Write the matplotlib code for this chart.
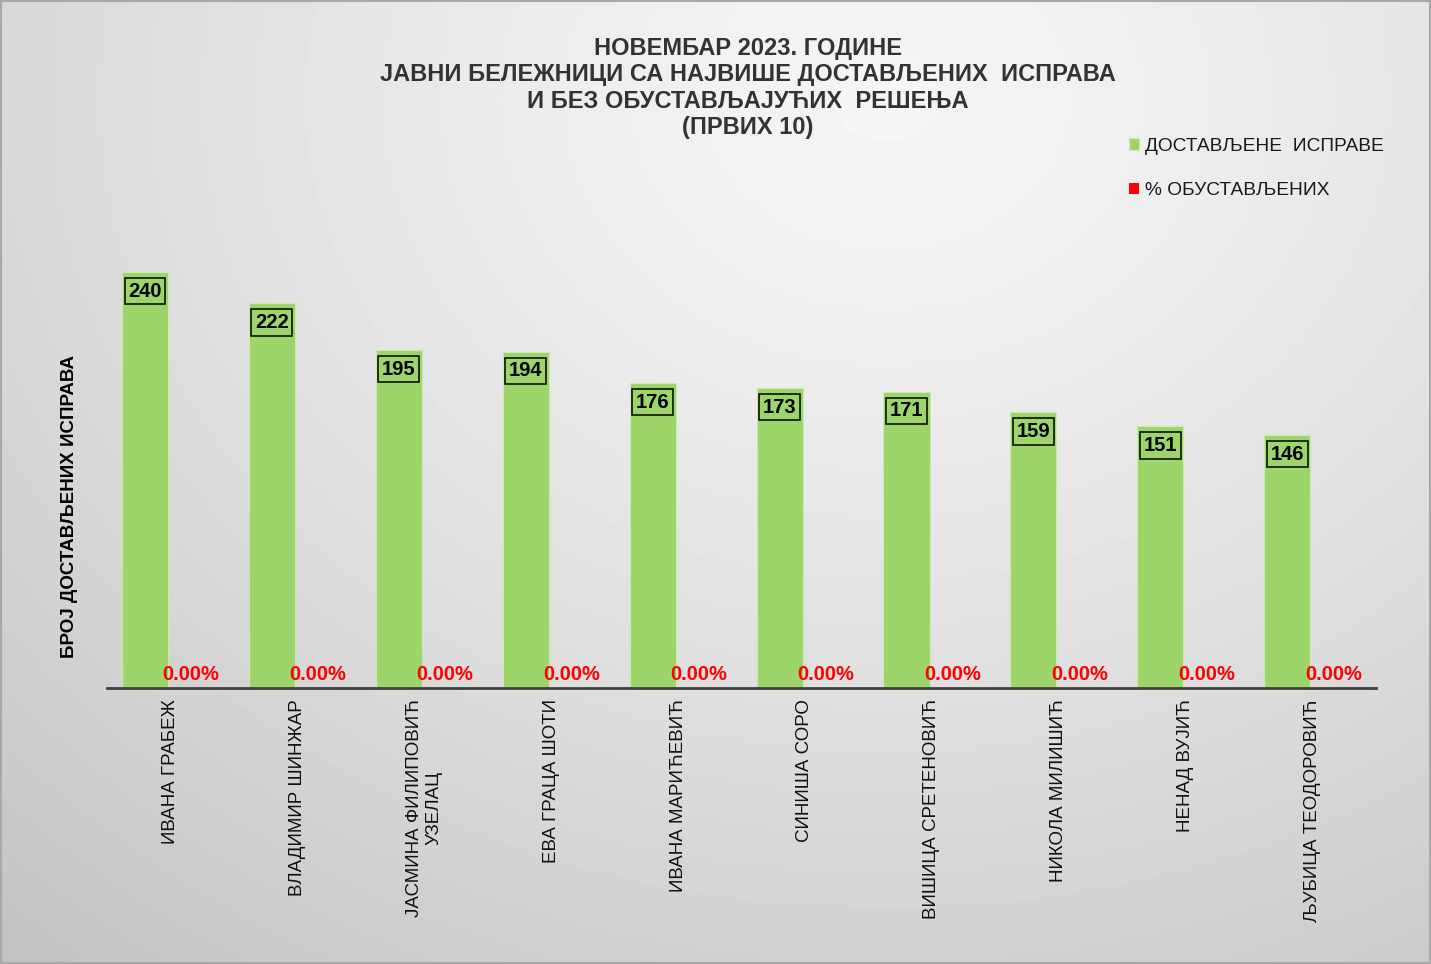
import matplotlib
matplotlib.use("Agg")
import matplotlib.pyplot as plt
import numpy as np
from matplotlib.patches import Rectangle

plt.rcParams["font.family"] = ["Liberation Sans", "DejaVu Sans"]

notaries = [
    "ИВАНА ГРАБЕЖ",
    "ВЛАДИМИР ШИНЖАР",
    "ЈАСМИНА ФИЛИПОВИЋ\nУЗЕЛАЦ",
    "ЕВА ГРАЦА ШОТИ",
    "ИВАНА МАРИЋЕВИЋ",
    "СИНИША СОРО",
    "ВИШИЦА СРЕТЕНОВИЋ",
    "НИКОЛА МИЛИШИЋ",
    "НЕНАД ВУЈИЋ",
    "ЉУБИЦА ТЕОДОРОВИЋ",
]
delivered = [240, 222, 195, 194, 176, 173, 171, 159, 151, 146]
pct_suspended = [0.0, 0.0, 0.0, 0.0, 0.0, 0.0, 0.0, 0.0, 0.0, 0.0]

title_lines = [
    "НОВЕМБАР 2023. ГОДИНЕ",
    "ЈАВНИ БЕЛЕЖНИЦИ СА НАЈВИШЕ ДОСТАВЉЕНИХ  ИСПРАВА",
    "И БЕЗ ОБУСТАВЉАЈУЋИХ  РЕШЕЊА",
    "(ПРВИХ 10)",
]

GREEN = "#9dd56b"
RED = "#ff0000"
W, H = 1431, 964


def draw_background(fig):
    bg = fig.add_axes([0, 0, 1, 1], zorder=-10)
    u = np.linspace(0, 1, 400)[None, :]
    v = np.linspace(0, 1, 300)[:, None]
    d = np.sqrt(((u - 0.62) / 0.85) ** 2 + ((v - 0.1) / 1.05) ** 2)
    img = np.clip(0.96 - 0.17 * d ** 1.3, 0, 1)
    bg.imshow(img, cmap="gray", vmin=0, vmax=1, aspect="auto", extent=[0, 1, 1, 0])
    bg.set_xlim(0, 1)
    bg.set_ylim(1, 0)
    bg.axis("off")
    bg.add_patch(Rectangle((0.0005, 0.001), 0.999, 0.998, fill=False, edgecolor="#a8a8a8", linewidth=1.5))


def main():
    fig = plt.figure(figsize=(W / 100, H / 100), dpi=100)
    draw_background(fig)

    ax = fig.add_axes([107 / W, 1 - 688 / H, 1269 / W, 468 / H])
    ax.patch.set_alpha(0)
    x = np.arange(len(notaries))
    bw = 0.363
    green = ax.bar(x - 0.20, delivered, bw, color=GREEN, edgecolor="#c9ebab", linewidth=0.8,
                   label="ДОСТАВЉЕНЕ  ИСПРАВЕ")
    red = ax.bar(x + 0.163, pct_suspended, bw, color=RED, label="% ОБУСТАВЉЕНИХ")

    for rect, val in zip(green, delivered):
        ax.annotate(f"{val}", (rect.get_x() + rect.get_width() / 2, val), xytext=(0, -7),
                    textcoords="offset points", ha="center", va="top", fontsize=14.5, fontweight="bold",
                    color="black",
                    bbox=dict(boxstyle="square,pad=0.18", facecolor="none", edgecolor="black", linewidth=1.1))
    for rect, val in zip(red, pct_suspended):
        ax.annotate(f"{val:.2f}%", (rect.get_x() + rect.get_width() / 2, 0), xytext=(0, 3),
                    textcoords="offset points", ha="center", va="bottom", fontsize=14.5, fontweight="bold",
                    color=RED)

    ax.set_xlim(-0.5, len(notaries) - 0.5)
    ax.set_ylim(0, 270)
    ax.set_yticks([])
    ax.set_xticks(x)
    ax.set_xticklabels(notaries, rotation=90, fontsize=13.5, color="#111111", ha="center", va="top",
                       multialignment="center")
    ax.tick_params(axis="x", length=0, pad=8)
    for side in ["top", "right", "left"]:
        ax.spines[side].set_visible(False)
    ax.spines["bottom"].set_color("#404040")
    ax.spines["bottom"].set_linewidth(2)

    fig.text(70 / W, 1 - 506 / H, "БРОЈ ДОСТАВЉЕНИХ ИСПРАВА", rotation=90, ha="center", va="center",
             fontsize=13.5, fontweight="bold", color="black")

    fig.text(748 / W, 1 - 88 / H, "\n".join(title_lines), ha="center", va="center", fontsize=17,
             fontweight="bold", color="#333333", linespacing=1.17,
             family=["Liberation Sans Narrow", "Liberation Sans", "DejaVu Sans"])

    leg = fig.legend(handles=[green, red], loc="upper left", bbox_to_anchor=(1119 / W, 1 - 128 / H),
                     frameon=False, fontsize=13.8, handlelength=0.55, handleheight=0.55, handletextpad=0.3,
                     labelspacing=1.45, borderpad=0)
    for t in leg.get_texts():
        t.set_color("#1a1a1a")

    fig.savefig("out.png", dpi=100)
    plt.close(fig)


if __name__ == "__main__":
    main()
